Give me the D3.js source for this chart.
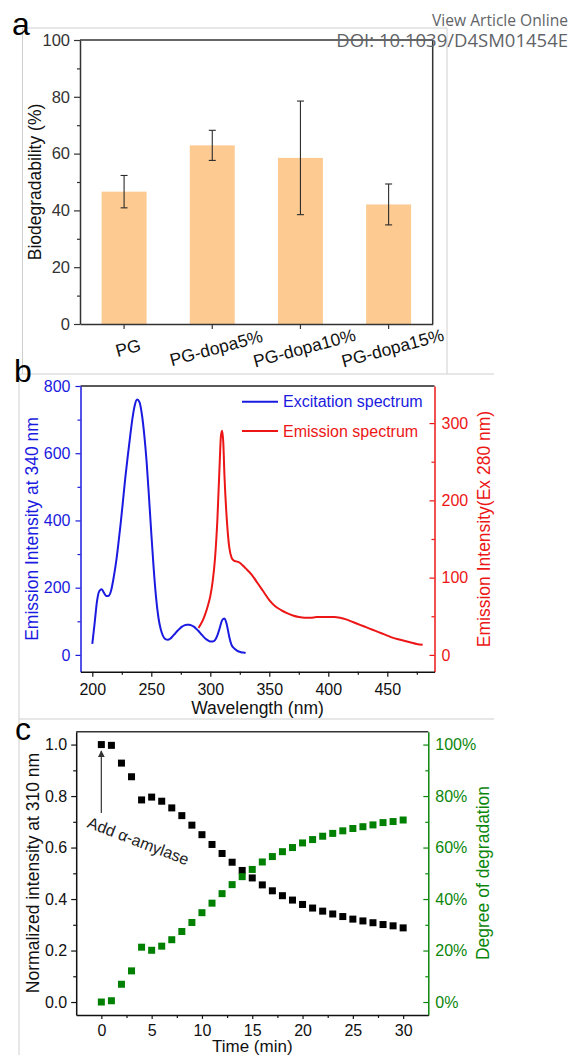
<!DOCTYPE html>
<html>
<head>
<meta charset="utf-8">
<script src="https://cdn.jsdelivr.net/npm/d3@7"></script>
<style>
  body { margin: 0; background: #fff; }
  svg { display: block; }
</style>
</head>
<body>
<script>
// ---- panel a: biodegradability bars
const barCats = ["PG", "PG-dopa5%", "PG-dopa10%", "PG-dopa15%"];
const barVals = [46.6, 62.9, 58.5, 42.1];
const barErrs = [5.7, 5.3, 20.0, 7.2];
const aTicks = [0, 20, 40, 60, 80, 100];
const aMinor = [10, 30, 50, 70, 90];

// ---- panel b: spectra [wavelength nm, intensity]
const excitation = [
  [200, 33], [202, 95], [204, 160], [206, 190], [208, 195], [210, 184], [212, 175], [214, 176],
  [216, 192], [218, 228], [220, 272], [222, 328], [224, 390], [226, 458], [228, 528], [230, 590],
  [232, 648], [234, 703], [236, 743], [238, 760], [240, 752], [242, 716], [244, 656], [246, 576],
  [248, 472], [250, 362], [252, 258], [254, 172], [256, 112], [258, 76], [260, 56], [262, 47],
  [264, 45], [266, 48], [268, 55], [270, 63], [272, 71], [274, 78], [276, 84], [278, 88],
  [280, 90], [282, 90], [284, 88], [286, 84], [288, 78], [290, 71], [292, 63], [294, 55],
  [296, 48], [298, 43], [300, 40], [302, 40], [304, 44], [306, 58], [308, 80], [310, 103],
  [312, 108], [314, 90], [316, 55], [318, 30], [320, 20], [322, 14], [324, 10], [326, 8],
  [328, 7], [330, 6]
];
const emission = [
  [290, 35], [292, 40], [294, 46], [296, 54], [298, 64], [300, 76], [302, 95], [304, 125],
  [306, 175], [308, 250], [309, 283], [310, 290], [311, 275], [312, 232], [314, 175], [316, 140],
  [318, 126], [320, 122], [322, 121], [324, 120], [326, 118], [328, 115], [330, 112], [335, 104],
  [340, 93], [345, 82], [350, 71], [355, 63], [360, 58], [365, 54], [370, 51], [375, 49],
  [380, 48], [385, 48], [390, 49], [395, 49], [400, 49], [405, 49], [410, 48], [415, 46],
  [420, 43], [425, 40], [430, 37], [435, 34], [440, 31], [445, 28], [450, 25], [455, 22],
  [460, 20], [465, 18], [470, 16], [475, 14], [480, 13]
];
const bTicksX = [200, 250, 300, 350, 400, 450];
const bMinorX = [225, 275, 325, 375, 425, 475];
const bTicksL = [0, 200, 400, 600, 800];
const bMinorL = [100, 300, 500, 700];
const bTicksR = [0, 100, 200, 300];
const bMinorR = [50, 150, 250];

// ---- panel c: degradation kinetics
const times = [0, 1, 2, 3, 4, 5, 6, 7, 8, 9, 10, 11, 12, 13, 14, 15, 16, 17, 18, 19, 20, 21, 22, 23, 24, 25, 26, 27, 28, 29, 30];
const normInt = [1.0, 0.997, 0.928, 0.875, 0.785, 0.796, 0.78, 0.754, 0.724, 0.687, 0.65, 0.612, 0.577, 0.543, 0.511, 0.482,
  0.455, 0.432, 0.413, 0.396, 0.379, 0.365, 0.353, 0.342, 0.332, 0.322, 0.315, 0.308, 0.301, 0.296, 0.288];
const degradation = [0, 0.5, 6.9, 12.1, 21.3, 20.1, 21.7, 24.2, 27.4, 30.9, 34.7, 38.4, 42.1, 45.6, 48.7, 51.5,
  54.4, 56.5, 58.4, 60.0, 61.8, 63.1, 64.4, 65.5, 66.5, 67.4, 68.1, 68.8, 69.7, 70.1, 70.7];
const cTicksX = [0, 5, 10, 15, 20, 25, 30];
const cMinorX = [2.5, 7.5, 12.5, 17.5, 22.5, 27.5];
const cTicksL = [0, 0.2, 0.4, 0.6, 0.8, 1.0];
const cMinorL = [0.1, 0.3, 0.5, 0.7, 0.9];
const cTicksR = [0, 20, 40, 60, 80, 100];
const cMinorR = [10, 30, 50, 70, 90];

const FONT = "'Liberation Sans', Arial, Helvetica, sans-serif";
const BLUE = "#1a1ae0";
const RED = "#ec1616";
const GREEN = "#0c860c";
const DARK = "#333";

const svg = d3.select("body").append("svg")
  .attr("width", 570)
  .attr("height", 1055)
  .style("font-family", FONT);

function drawAxis(gen, color, t, fs) {
  const g = svg.append("g").attr("transform", t).call(gen);
  g.attr("font-family", FONT).attr("font-size", fs || 16);
  g.select(".domain").attr("stroke", color).attr("stroke-width", 1.5);
  g.selectAll(".tick line").attr("stroke", color).attr("stroke-width", 1.2);
  g.selectAll(".tick text").attr("fill", color);
  return g;
}
function minorAxis(gen, color, t) {
  const g = svg.append("g").attr("transform", t).call(gen.tickFormat(""));
  g.select(".domain").remove();
  g.selectAll(".tick line").attr("stroke", color).attr("stroke-width", 1.2);
}
function frameLine(x1, y1, x2, y2, color, w) {
  svg.append("line").attr("x1", x1).attr("y1", y1).attr("x2", x2).attr("y2", y2)
    .attr("stroke", color).attr("stroke-width", w);
}

// page frame lines (light grey)
const grey = "#cfcfcf";
frameLine(22.5, 28, 447, 28, grey, 1);
frameLine(22.5, 28, 22.5, 374, grey, 1);
frameLine(447, 28, 447, 374, grey, 1);
frameLine(19, 374, 494, 374, grey, 1);
frameLine(19, 374, 19, 1055, grey, 1);
frameLine(19, 719, 494, 719, grey, 1);

// ================= panel a
const ax = d3.scaleBand().domain(barCats).range([80, 432.7]).paddingInner(0.49).paddingOuter(0.245);
const ay = d3.scaleLinear().domain([0, 100]).range([324, 40]);

svg.append("g").selectAll("rect")
  .data(barCats)
  .join("rect")
  .attr("x", d => ax(d))
  .attr("y", (d, i) => ay(barVals[i]))
  .attr("width", ax.bandwidth())
  .attr("height", (d, i) => ay(0) - ay(barVals[i]))
  .attr("fill", "#fdca92");

const errG = svg.append("g").attr("stroke", "#2b2b2b").attr("stroke-width", 1.1);
barCats.forEach((c, i) => {
  const cx = ax(c) + ax.bandwidth() / 2;
  const hi = ay(barVals[i] + barErrs[i]);
  const lo = ay(barVals[i] - barErrs[i]);
  errG.append("line").attr("x1", cx).attr("x2", cx).attr("y1", hi).attr("y2", lo);
  errG.append("line").attr("x1", cx - 3.5).attr("x2", cx + 3.5).attr("y1", hi).attr("y2", hi);
  errG.append("line").attr("x1", cx - 3.5).attr("x2", cx + 3.5).attr("y1", lo).attr("y2", lo);
});

frameLine(ax.range()[0], ay(100), ax.range()[1], ay(100), DARK, 1.5);
frameLine(ax.range()[1], ay(100), ax.range()[1], ay(0), DARK, 1.5);

drawAxis(d3.axisLeft(ay).tickValues(aTicks).tickSize(6).tickPadding(4).tickSizeOuter(0), DARK, "translate(80,0)", 16.5);
minorAxis(d3.axisLeft(ay).tickValues(aMinor).tickSize(3), DARK, "translate(80,0)");
drawAxis(d3.axisBottom(ax).tickSize(5).tickSizeOuter(0).tickFormat(""), DARK, "translate(0,324)");

svg.append("g").selectAll("text")
  .data(barCats)
  .join("text")
  .attr("transform", d => `translate(${ax(d) + ax.bandwidth() / 2 + 4},348) rotate(-15)`)
  .attr("text-anchor", "middle")
  .attr("dominant-baseline", "central")
  .attr("font-size", 17.5)
  .attr("fill", "#111")
  .text(d => d);

svg.append("text")
  .attr("transform", "translate(41,182) rotate(-90)")
  .attr("text-anchor", "middle")
  .attr("font-size", 17.5)
  .attr("fill", "#111")
  .text("Biodegradability (%)");

// ================= panel b
const bx = d3.scaleLinear().domain([190, 490]).range([80.5, 434.5]);
const byL = d3.scaleLinear().domain([-50, 800]).range([671.7, 386]);
const byR = d3.scaleLinear().domain([-21.75, 348]).range([671.7, 386]);

frameLine(bx.range()[0], 386, bx.range()[1], 386, "#222", 1.5);

svg.append("path")
  .datum(excitation)
  .attr("fill", "none")
  .attr("stroke", BLUE)
  .attr("stroke-width", 2)
  .attr("d", d3.line().x(d => bx(d[0])).y(d => byL(d[1])).curve(d3.curveMonotoneX));

svg.append("path")
  .datum(emission)
  .attr("fill", "none")
  .attr("stroke", RED)
  .attr("stroke-width", 2)
  .attr("d", d3.line().x(d => bx(d[0])).y(d => byR(d[1])).curve(d3.curveMonotoneX));

drawAxis(d3.axisLeft(byL).tickValues(bTicksL).tickSize(5).tickPadding(5).tickSizeOuter(0), BLUE, "translate(80.5,0)");
minorAxis(d3.axisLeft(byL).tickValues(bMinorL).tickSize(3), BLUE, "translate(80.5,0)");
drawAxis(d3.axisRight(byR).tickValues(bTicksR).tickSize(-5).tickPadding(7).tickSizeOuter(0), RED, "translate(434.5,0)");
minorAxis(d3.axisRight(byR).tickValues(bMinorR).tickSize(-3), RED, "translate(434.5,0)");
drawAxis(d3.axisBottom(bx).tickValues(bTicksX).tickSize(5).tickPadding(7).tickSizeOuter(0), "#111", "translate(0,671.7)");
minorAxis(d3.axisBottom(bx).tickValues(bMinorX).tickSize(3), "#111", "translate(0,671.7)");

// legend
const legend = [["Excitation spectrum", BLUE, 401.7], ["Emission spectrum", RED, 431]];
legend.forEach(([label, col, ly]) => {
  frameLine(242, ly, 278, ly, col, 2);
  svg.append("text").attr("x", 283).attr("y", ly + 5.5)
    .attr("font-size", 16).attr("fill", col).text(label);
});

svg.append("text")
  .attr("transform", "translate(38,529) rotate(-90)")
  .attr("text-anchor", "middle")
  .attr("font-size", 17.5)
  .attr("fill", BLUE)
  .text("Emission Intensity at 340 nm");

svg.append("text")
  .attr("transform", "translate(490,529) rotate(-90)")
  .attr("text-anchor", "middle")
  .attr("font-size", 17.5)
  .attr("fill", RED)
  .text("Emission Intensity(Ex 280 nm)");

svg.append("text")
  .attr("x", 257.5).attr("y", 714)
  .attr("text-anchor", "middle")
  .attr("font-size", 17.5)
  .attr("fill", "#111")
  .text("Wavelength (nm)");

// ================= panel c
const cxs = d3.scaleLinear().domain([-2.5, 32.5]).range([76.2, 428.3]);
const cyL = d3.scaleLinear().domain([-0.05, 1.05]).range([1014.9, 731.7]);
const cyR = d3.scaleLinear().domain([-5, 105]).range([1014.9, 731.7]);

frameLine(cxs.range()[0], 731.7, cxs.range()[1], 731.7, DARK, 1.5);

const sq = 7;
svg.append("g").selectAll("rect")
  .data(times)
  .join("rect")
  .attr("x", d => cxs(d) - sq / 2)
  .attr("y", (d, i) => cyL(normInt[i]) - sq / 2)
  .attr("width", sq).attr("height", sq)
  .attr("fill", "#000");

svg.append("g").selectAll("rect")
  .data(times)
  .join("rect")
  .attr("x", d => cxs(d) - sq / 2)
  .attr("y", (d, i) => cyR(degradation[i]) - sq / 2)
  .attr("width", sq).attr("height", sq)
  .attr("fill", "#008000");

drawAxis(d3.axisLeft(cyL).tickValues(cTicksL).tickSize(5).tickPadding(4).tickFormat(d3.format(".1f")).tickSizeOuter(0), "#111", "translate(76.2,0)");
minorAxis(d3.axisLeft(cyL).tickValues(cMinorL).tickSize(3), "#111", "translate(76.2,0)");
drawAxis(d3.axisRight(cyR).tickValues(cTicksR).tickSize(-5).tickPadding(7).tickFormat(d => d + "%").tickSizeOuter(0), GREEN, "translate(428.3,0)");
minorAxis(d3.axisRight(cyR).tickValues(cMinorR).tickSize(-3), GREEN, "translate(428.3,0)");
drawAxis(d3.axisBottom(cxs).tickValues(cTicksX).tickSize(4).tickPadding(6).tickSizeOuter(0), "#111", "translate(0,1014.9)");
minorAxis(d3.axisBottom(cxs).tickValues(cMinorX).tickSize(3), "#111", "translate(0,1014.9)");

// annotation arrow
const defs = svg.append("defs");
defs.append("marker")
  .attr("id", "arrowhead")
  .attr("viewBox", "0 0 10 10")
  .attr("refX", 9).attr("refY", 5)
  .attr("markerWidth", 7).attr("markerHeight", 7)
  .attr("markerUnits", "userSpaceOnUse")
  .attr("orient", "auto")
  .append("path").attr("d", "M0,0 L10,5 L0,10 Z").attr("fill", "#333");

svg.append("line")
  .attr("x1", cxs(0)).attr("x2", cxs(0))
  .attr("y1", cyL(0.734)).attr("y2", cyL(0.975))
  .attr("stroke", "#444").attr("stroke-width", 1.3)
  .attr("marker-end", "url(#arrowhead)");

svg.append("text")
  .attr("transform", `translate(${cxs(-1.5)},${cyL(0.68)}) rotate(21)`)
  .attr("font-size", 16)
  .attr("fill", "#222")
  .text("Add α-amylase");

svg.append("text")
  .attr("transform", "translate(39,873) rotate(-90)")
  .attr("text-anchor", "middle")
  .attr("font-size", 17.5)
  .attr("fill", "#111")
  .text("Normalized intensity at 310 nm");

svg.append("text")
  .attr("transform", "translate(489,873) rotate(-90)")
  .attr("text-anchor", "middle")
  .attr("font-size", 17.5)
  .attr("fill", GREEN)
  .text("Degree of degradation");

svg.append("text")
  .attr("x", 252.3).attr("y", 1052)
  .attr("text-anchor", "middle")
  .attr("font-size", 17)
  .attr("fill", "#111")
  .text("Time (min)");

// panel letters
[["a", 12, 35], ["b", 14, 382], ["c", 15, 740]].forEach(([t, x, y]) => {
  svg.append("text").attr("x", x).attr("y", y)
    .attr("font-size", 32).attr("fill", "#000").text(t);
});

// publisher header
svg.append("text")
  .attr("x", 568).attr("y", 26)
  .attr("text-anchor", "end")
  .attr("font-family", "'Open Sans', 'Noto Sans', sans-serif")
  .attr("font-size", 15.6)
  .attr("fill", "#5f6468")
  .text("View Article Online");
svg.append("text")
  .attr("x", 568).attr("y", 47)
  .attr("text-anchor", "end")
  .attr("font-family", "'Open Sans', 'Noto Sans', sans-serif")
  .attr("font-size", 18.5)
  .attr("fill", "#5f6468")
  .text("DOI: 10.1039/D4SM01454E");
</script>
</body>
</html>
